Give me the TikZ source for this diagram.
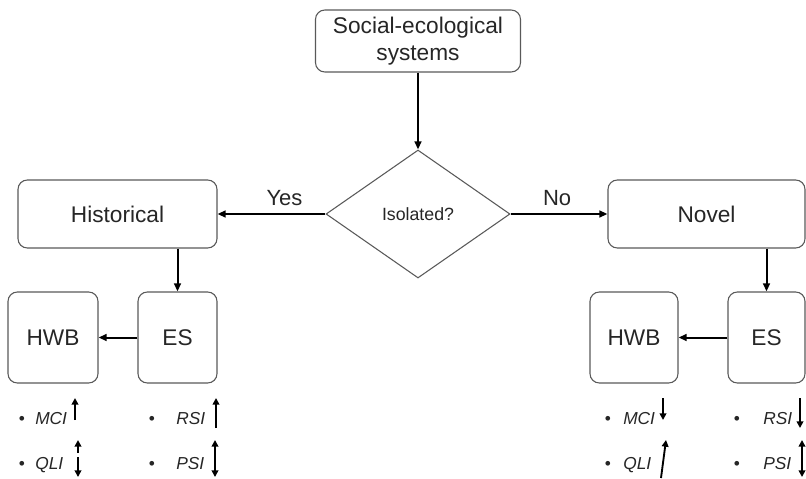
\documentclass[tikz,border=0pt]{standalone}
\usepackage{fontspec}
\setmainfont{Liberation Sans}
\usetikzlibrary{
	arrows.meta,
	positioning,
	calc,
	shapes.geometric
}
\usepackage{xcolor}

\begin{document}
\begin{tikzpicture}[x=0.75pt,y=-0.75pt,>={Triangle[length=6pt,width=5pt]},
		box/.style={draw=black!65,line width=0.8pt,rounded corners=7pt,align=center,
			text=black!85,font=\fontsize{17}{20}\selectfont},
		decide/.style={draw=black!65,line width=0.8pt,diamond,inner sep=0pt,
			text=black!85,font=\fontsize{13.3}{15}\selectfont},
		flow/.style={->,line width=1.5pt},
		answer/.style={text=black!85,font=\fontsize{16.5}{18}\selectfont},
		ind/.style={line width=1.4pt,-{Triangle[length=5pt,width=5pt]}},
		both/.style={line width=1.4pt,{Triangle[length=5pt,width=5pt]}-{Triangle[length=5pt,width=5pt]}},
		dot/.style={inner sep=0pt,anchor=base,text=black!85,font=\fontsize{13}{15}\selectfont},
		item/.style={inner sep=0pt,anchor=base west,text=black!85,font=\fontsize{13}{15}\selectfont\itshape}]
		
		\useasboundingbox (0,0) rectangle (806,478);
		
		%---------------- Top ----------------%
		
		\node[box,minimum width=153.75pt,minimum height=46.5pt] (sys) at (418,41)
		{Social-ecological\\systems};
		
		\node[decide,minimum width=138pt,minimum height=96pt] (iso) at (418,214)
		{Isolated?};
		
		\node[box,minimum width=149.25pt,minimum height=51pt] (hist) at (117.5,214)
		{Historical};
		
		\node[box,minimum width=147.75pt,minimum height=51pt] (nov) at (706.5,214)
		{Novel};
		
		\draw[flow] (sys)--(iso);
		\draw[flow] (iso)--node[pos=0.38,above=2pt,answer]{Yes}(hist);
		\draw[flow] (iso)--node[pos=0.48,above=2pt,answer]{No}(nov);
		
		%---------------- Historical ----------------%
		
		\node[box,minimum width=59.25pt,minimum height=68.25pt] (esH) at (177.5,337.5)
		{ES};
		
		\node[box,minimum width=67.5pt,minimum height=68.25pt] (hwbH) at (53,337.5)
		{HWB};
		
		\draw[flow] (hist.south -| esH)--(esH);
		\draw[flow] (esH)--(hwbH);
		
		\node[dot] (mciHdot) at (22,424) {\textbullet};
		\node[item] (mciH) at (35,424) {MCI};
		\node[dot] (qliHdot) at (22,469) {\textbullet};
		\node[item] (qliH) at (35,469) {QLI};
		\node[dot] (rsiHdot) at (152,424) {\textbullet};
		\node[item] (rsiH) at (176,424) {RSI};
		\node[dot] (psiHdot) at (152,469) {\textbullet};
		\node[item] (psiH) at (176,469) {PSI};
		
		\draw[ind] (75,420)--(75,398);
		\draw[ind] (216,428)--(216,398);
		\draw[ind] (78,453)--(78,440);
		\draw[ind] (78,457)--(78,477);
		\draw[both] (215,440)--(215,477);
		
		%---------------- Novel ----------------%
		
		\node[box,minimum width=57.75pt,minimum height=68.25pt] (esN) at (766.5,337.5)
		{ES};
		
		\node[box,minimum width=66pt,minimum height=68.25pt] (hwbN) at (634,337.5)
		{HWB};
		
		\draw[flow] (nov.south -| esN)--(esN);
		\draw[flow] (esN)--(hwbN);
		
		\node[dot] (mciNdot) at (608,424) {\textbullet};
		\node[item] (mciN) at (623,424) {MCI};
		\node[dot] (qliNdot) at (608,469) {\textbullet};
		\node[item] (qliN) at (623,469) {QLI};
		\node[dot] (rsiNdot) at (737,424) {\textbullet};
		\node[item] (rsiN) at (763,424) {RSI};
		\node[dot] (psiNdot) at (737,469) {\textbullet};
		\node[item] (psiN) at (763,469) {PSI};
		
		\draw[ind] (663,398)--(663,420);
		\draw[ind] (800,398)--(800,428);
		\draw[ind] (661,478)--(666,440);
		\draw[both] (802,440)--(802,477);
		
	\end{tikzpicture}
\end{document}
